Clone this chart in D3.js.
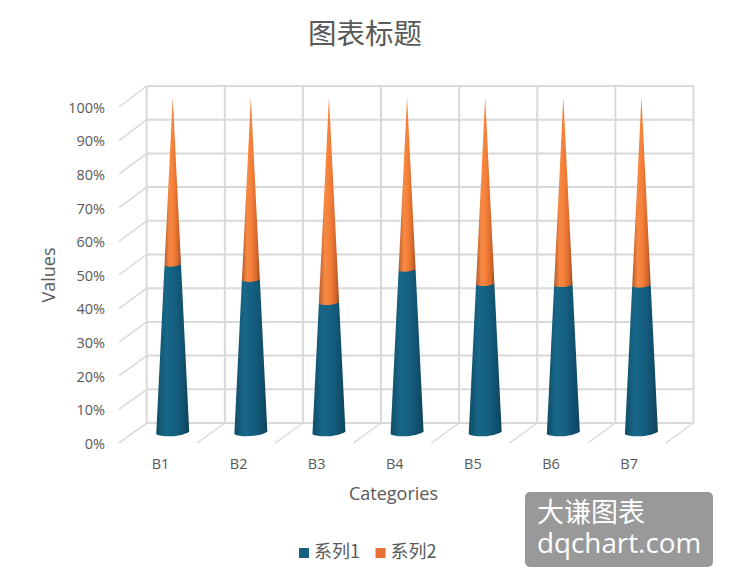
<!DOCTYPE html>
<html><head><meta charset="utf-8">
<script src="https://cdnjs.cloudflare.com/ajax/libs/d3/7.8.5/d3.min.js"></script>
<style>html,body{margin:0;padding:0;background:#fff}svg{display:block}
text{font-family:"Open Sans","Noto Sans CJK SC",sans-serif;fill:#595959}
.cjk{font-family:"Noto Sans CJK SC",sans-serif}</style></head><body>
<script>
const categories=["B1","B2","B3","B4","B5","B6","B7"];
const seriesNames=["系列1","系列2"];
const series1=[0.5,0.455,0.387,0.485,0.443,0.44,0.438];
const series2=[0.5,0.545,0.613,0.515,0.557,0.56,0.562];
const seriesColors=["#156082","#E97132"];
const yTicks=[0,0.1,0.2,0.3,0.4,0.5,0.6,0.7,0.8,0.9,1];
const W=729,H=583;
const svg=d3.select("body").append("svg").attr("width",W).attr("height",H);
const defs=svg.append("defs");
[["g0",["#114d69","#186788","#156082","#115270","#0d435c"]],
 ["g1",["#b9592a","#f58a45","#f57f38","#d96a2d","#9c4c22"]]].forEach(([id,c])=>{
  const g=defs.append("linearGradient").attr("id",id).attr("x1",0).attr("x2",1).attr("y1",0).attr("y2",0);
  [0,.3,.55,.8,1].forEach((o,i)=>g.append("stop").attr("offset",o).attr("stop-color",c[i]));
});
const xBack=d3.scaleBand().domain(categories).range([146.7,693.5]);
const yBack=d3.scaleLinear().domain([0,1]).range([423,86]);
const yFront=d3.scaleLinear().domain([0,1]).range([443,107]);
const yCone=d3.scaleLinear().domain([0,1]).range([433,97]);
const dx=-27.7,dy=20;
const grid=svg.append("g").attr("stroke","#d9d9d9").attr("fill","none");
yTicks.forEach(t=>{
  grid.append("line").attr("x1",xBack.range()[0]).attr("x2",xBack.range()[1]).attr("y1",yBack(t)).attr("y2",yBack(t)).attr("stroke-width",2);
  grid.append("line").attr("x1",xBack.range()[0]).attr("y1",yBack(t)).attr("x2",xBack.range()[0]+dx).attr("y2",yFront(t)).attr("stroke-width",1.5);
});
const edges=categories.map(c=>xBack(c)).concat(xBack.range()[1]);
edges.forEach(x=>{
  grid.append("line").attr("x1",x).attr("x2",x).attr("y1",yBack(0)).attr("y2",yBack(1)).attr("stroke-width",2);
  grid.append("line").attr("x1",x).attr("y1",yBack(0)).attr("x2",x+dx).attr("y2",yBack(0)+dy).attr("stroke-width",1.5);
});
const baseHalf=16.5;
const coneX=c=>xBack(c)+xBack.bandwidth()/3;
const hw=v=>baseHalf*(1-v);
function cone(cx,a,b){
  const ya=yCone(a),yb=yCone(b),ra=hw(a),rb=hw(b);
  const ry=r=>r*0.24, tilt=r=>r*0.08;
  const p=d3.path();
  p.moveTo(cx-ra,ya+tilt(ra));
  p.lineTo(cx-rb,yb+tilt(rb));
  if(rb>0) p.bezierCurveTo(cx-rb*0.4,yb+tilt(rb)-ry(rb)*0.18,cx+rb*0.4,yb-tilt(rb)-ry(rb)*0.18,cx+rb,yb-tilt(rb));
  p.lineTo(cx+ra,ya-tilt(ra));
  p.bezierCurveTo(cx+ra*0.45,ya+ry(ra)*1.05,cx-ra*0.6,ya+ry(ra)*1.15,cx-ra,ya+tilt(ra));
  p.closePath();
  return p.toString();
}
const cones=svg.append("g");
categories.forEach((c,i)=>{
  const cx=coneX(c),v1=series1[i];
  cones.append("path").attr("d",cone(cx,0,v1)).attr("fill","url(#g0)");
  cones.append("path").attr("d",cone(cx,v1,v1+series2[i])).attr("fill","url(#g1)");
});
const yAxis=d3.axisLeft(yFront).tickValues(yTicks).tickFormat(d3.format(".0%")).tickSize(0).tickPadding(0);
const ya=svg.append("g").attr("transform","translate(105,0)").call(yAxis);
ya.select(".domain").remove();
ya.selectAll("text").attr("font-size",14.5).attr("font-family",null).attr("dy","0.36em");
const xAxis=d3.axisBottom(d3.scalePoint().domain(categories).range([160,628.6])).tickSize(0).tickPadding(0);
const xa=svg.append("g").attr("transform","translate(0,459)").call(xAxis);
xa.select(".domain").remove();
xa.selectAll("text").attr("font-size",14.5).attr("font-family",null).attr("dy","0.71em");
svg.append("text").attr("class","cjk").attr("x",365).attr("y",44).attr("text-anchor","middle").attr("font-size",28.5).text("图表标题");
svg.append("text").attr("x",393.5).attr("y",500).attr("text-anchor","middle").attr("font-size",18).text("Categories");
svg.append("text").attr("transform","translate(55,275) rotate(-90)").attr("text-anchor","middle").attr("font-size",18).text("Values");
const legendX=[299,375.5];
seriesNames.forEach((n,i)=>{
  svg.append("rect").attr("x",legendX[i]).attr("y",548).attr("width",10).attr("height",10).attr("fill",seriesColors[i]);
  svg.append("text").attr("class","cjk").attr("x",legendX[i]+15).attr("y",558).attr("font-size",18).text(n);
});
svg.append("rect").attr("x",525).attr("y",492).attr("width",188).attr("height",75).attr("rx",5).attr("fill","#999999");
svg.append("text").attr("class","cjk").attr("x",537).attr("y",522).attr("font-size",27).style("fill","#fff").text("大谦图表");
svg.append("text").attr("x",537).attr("y",553).attr("font-size",27.8).style("fill","#fff").text("dqchart.com");
</script></body></html>
